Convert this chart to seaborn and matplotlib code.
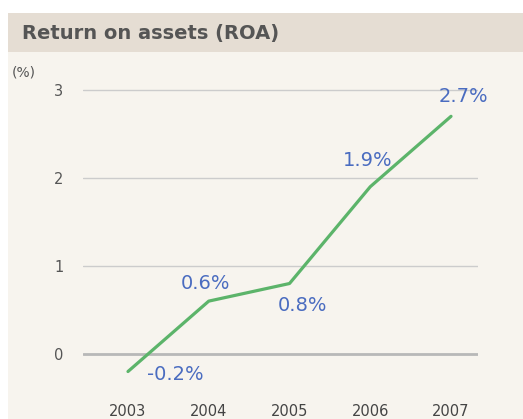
import pandas as pd
import matplotlib
matplotlib.use("Agg")
import matplotlib.pyplot as plt
import seaborn as sns
from matplotlib.patches import Rectangle

# data
years = [2003, 2004, 2005, 2006, 2007]
roa = [-0.2, 0.6, 0.8, 1.9, 2.7]
labels = ["-0.2%", "0.6%", "0.8%", "1.9%", "2.7%"]
y_ticks = [0, 1, 2, 3]

df = pd.DataFrame({"Year": years, "ROA": roa})

sns.set_style("white")
plt.rcParams["font.family"] = ["DejaVu Sans"]

bg = "#f7f4ee"
band = "#e5ddd3"

fig = plt.figure(figsize=(5.23, 4.19), dpi=100)
fig.patch.set_facecolor("white")

# background panel and title band
fig.patches.append(Rectangle((8 / 523, 0), 1, (419 - 13) / 419, transform=fig.transFigure,
                             facecolor=bg, edgecolor="none", zorder=-10))
fig.patches.append(Rectangle((8 / 523, (419 - 52) / 419), 1, 39 / 419, transform=fig.transFigure,
                             facecolor=band, edgecolor="none", zorder=-9))
fig.text(22 / 523, (419 - 33) / 419, "Return on assets (ROA)", fontsize=14, fontweight="bold",
         color="#555555", va="center", ha="left")
fig.text(12 / 523, (419 - 72) / 419, "(%)", fontsize=10, color="#555555", va="center", ha="left")

ax = fig.add_axes([83 / 523, 29 / 419, 395 / 523, 330 / 419])
ax.set_facecolor("none")

sns.lineplot(data=df, x="Year", y="ROA", ax=ax, color="#5cb46a", linewidth=2.3, zorder=3)

for y in y_ticks:
    if y == 0:
        ax.axhline(y, color="#b8b8b8", linewidth=2, zorder=1)
    else:
        ax.axhline(y, color="#cccccc", linewidth=1, zorder=1)

offsets = [(34, -2), (-2, 13), (9, -16), (-2, 19), (9, 14)]
for x, v, lab, off in zip(years, roa, labels, offsets):
    ax.annotate(lab, (x, v), xytext=off, textcoords="offset points", ha="center", va="center",
                fontsize=14, color="#4a6cc0", annotation_clip=False, zorder=4)

ax.set_xlim(2002.443, 2007.334)
ax.set_ylim(-0.41, 3.34)
ax.set_xticks(years)
ax.set_yticks(y_ticks)
ax.tick_params(axis="y", length=0, pad=14, labelsize=10.5, labelcolor="#555555")
ax.tick_params(axis="x", length=0, pad=10, labelsize=10.5, labelcolor="#444444")
ax.set_xlabel("")
ax.set_ylabel("")
for s in ax.spines.values():
    s.set_visible(False)

fig.savefig("out.png", dpi=100, facecolor=fig.get_facecolor())
